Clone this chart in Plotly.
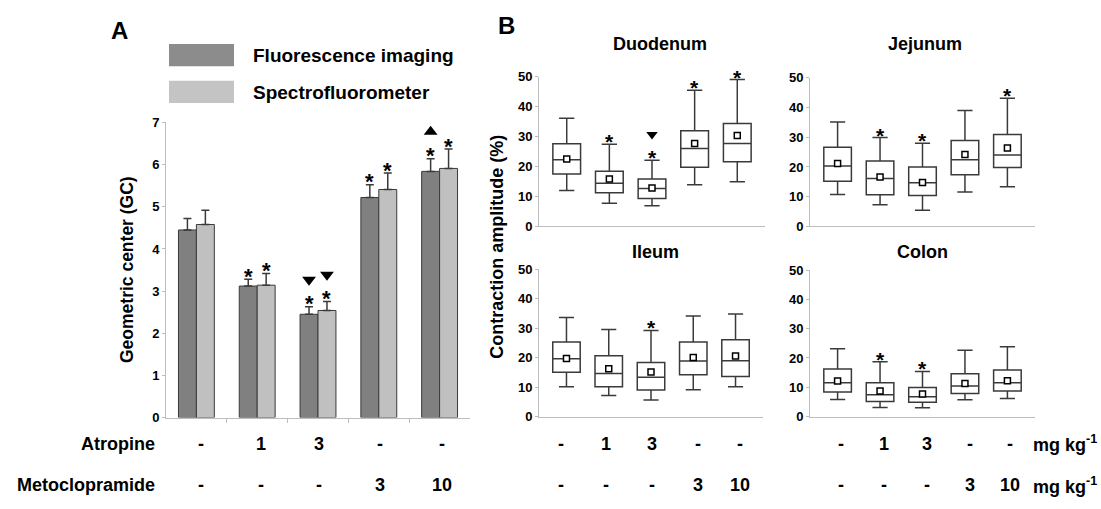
import plotly.graph_objects as go

W, H = 1101, 509

# ---------------- Panel A: geometric centre of transit ----------------
groups = [0, 1, 2, 3, 4]
gc_fluor = [4.45, 3.12, 2.45, 5.22, 5.84]
gc_fluor_err = [0.27, 0.16, 0.18, 0.30, 0.30]
gc_spec = [4.58, 3.14, 2.54, 5.41, 5.91]
gc_spec_err = [0.34, 0.28, 0.21, 0.39, 0.46]
gc_fluor_star = [False, True, True, True, True]
gc_spec_star = [False, True, True, True, True]
gc_fluor_tri = [None, None, "down", None, "up"]
gc_spec_tri = [None, None, "down", None, None]

# ---------------- Panel B: contraction amplitude (%) ----------------
duo_low = [12.0, 7.7, 6.9, 13.9, 14.9]
duo_q1 = [17.5, 11.2, 9.3, 19.8, 21.6]
duo_med = [22.3, 14.4, 12.7, 26.0, 27.7]
duo_q3 = [27.6, 18.4, 15.8, 32.0, 34.4]
duo_high = [36.2, 27.5, 22.1, 45.5, 49.1]
duo_mean = [22.5, 15.8, 12.8, 27.7, 30.4]
duo_star = [False, True, True, True, True]
duo_tri = [None, None, "down", None, None]

jej_low = [10.7, 7.3, 5.4, 11.6, 13.3]
jej_q1 = [15.2, 10.6, 10.4, 17.4, 19.8]
jej_med = [20.3, 16.1, 14.7, 22.4, 24.0]
jej_q3 = [26.6, 22.0, 20.0, 28.9, 30.9]
jej_high = [35.1, 29.9, 28.0, 39.0, 43.1]
jej_mean = [21.2, 16.6, 14.8, 24.2, 26.4]
jej_star = [False, True, True, False, True]
jej_tri = [None] * 5

ile_low = [10.1, 7.1, 5.6, 9.1, 10.1]
ile_q1 = [15.0, 10.1, 9.0, 14.2, 13.6]
ile_med = [19.6, 14.6, 13.3, 18.8, 18.9]
ile_q3 = [25.3, 20.6, 18.3, 25.3, 26.0]
ile_high = [33.6, 29.5, 29.2, 34.1, 34.8]
ile_mean = [19.7, 16.2, 15.1, 20.0, 20.5]
ile_star = [False, False, True, False, False]
ile_tri = [None] * 5

col_low = [5.8, 3.1, 3.0, 5.7, 6.2]
col_q1 = [8.4, 5.1, 4.9, 7.9, 8.7]
col_med = [11.5, 7.4, 6.8, 10.4, 11.5]
col_q3 = [16.2, 11.5, 9.9, 14.6, 15.9]
col_high = [23.1, 18.7, 15.4, 22.6, 23.8]
col_mean = [12.1, 8.7, 7.7, 11.3, 12.2]
col_star = [False, True, True, False, False]
col_tri = [None] * 5

# Dose table below the panels
atropine_doses = ["-", "1", "3", "-", "-"]
metoclopramide_doses = ["-", "-", "-", "3", "10"]

# Column positions (px) of the dose table under each panel
table_cols_a = [201, 261, 319, 380, 442]
table_cols_b_left = [561, 606, 652, 698, 740]
table_cols_b_right = [841, 884, 927, 970, 1010]

FONT = "Liberation Sans, Arial, Helvetica, sans-serif"
AXIS_GREY = "#bdbdbd"
LINE_DARK = "#3a3a3a"


def px_x(p):
    return p / W


def px_y(p):
    return 1 - p / H


fig = go.Figure()
ann = []

# ---- Panel A bars ----
bar_w = 0.295
fig.add_trace(go.Bar(
    x=groups, y=gc_fluor, width=bar_w, offset=-bar_w,
    marker=dict(color="#808080", line=dict(color=LINE_DARK, width=1)),
    error_y=dict(type="data", array=gc_fluor_err, arrayminus=[0] * 5,
                 symmetric=False, color=LINE_DARK, thickness=1.5, width=4),
    xaxis="x", yaxis="y", showlegend=False, name="Fluorescence imaging"))
fig.add_trace(go.Bar(
    x=groups, y=gc_spec, width=bar_w, offset=0,
    marker=dict(color="#c0c0c0", line=dict(color=LINE_DARK, width=1)),
    error_y=dict(type="data", array=gc_spec_err, arrayminus=[0] * 5,
                 symmetric=False, color=LINE_DARK, thickness=1.5, width=4),
    xaxis="x", yaxis="y", showlegend=False, name="Spectrofluorometer"))


def add_marks(xs, tops, stars, tris, xa, ya, star_px, tri_off, tri_size, star_size):
    """Significance asterisks (annotations) and triangles (markers) above each top."""
    tdx, tdy, tux, tuy = [], [], [], []
    for x, t, s, tr in zip(xs, tops, stars, tris):
        if s:
            ann.append(dict(x=x, y=t, xref=xa, yref=ya, text="*", yshift=star_px,
                            showarrow=False, xanchor="center", yanchor="middle",
                            font=dict(family=FONT, size=star_size, color="black",
                                      weight="bold")))
        if tr == "down":
            tdx.append(x)
            tdy.append(t + tri_off)
        elif tr == "up":
            tux.append(x)
            tuy.append(t + tri_off)
    for tx, ty, sym in ((tdx, tdy, "triangle-down"), (tux, tuy, "triangle-up")):
        if tx:
            fig.add_trace(go.Scatter(
                x=tx, y=ty, mode="markers",
                marker=dict(symbol=sym, size=tri_size, color="black"),
                xaxis=xa, yaxis=ya, showlegend=False, hoverinfo="skip",
                cliponaxis=False))


add_marks([g - bar_w / 2 for g in groups],
          [v + e for v, e in zip(gc_fluor, gc_fluor_err)],
          gc_fluor_star, gc_fluor_tri, "x", "y", 3, 0.64, 12, 22)
add_marks([g + bar_w / 2 for g in groups],
          [v + e for v, e in zip(gc_spec, gc_spec_err)],
          gc_spec_star, gc_spec_tri, "x", "y", 3, 0.64, 12, 22)

# ---- Panel B box plots ----
segments = [
    ("Duodenum", duo_low, duo_q1, duo_med, duo_q3, duo_high, duo_mean, duo_star, duo_tri, "x2", "y2"),
    ("Jejunum", jej_low, jej_q1, jej_med, jej_q3, jej_high, jej_mean, jej_star, jej_tri, "x3", "y3"),
    ("Ileum", ile_low, ile_q1, ile_med, ile_q3, ile_high, ile_mean, ile_star, ile_tri, "x4", "y4"),
    ("Colon", col_low, col_q1, col_med, col_q3, col_high, col_mean, col_star, col_tri, "x5", "y5"),
]
for name, lo, q1, med, q3, hi, mean, star, tri, xa, ya in segments:
    fig.add_trace(go.Box(
        x=groups, lowerfence=lo, q1=q1, median=med, q3=q3, upperfence=hi,
        boxpoints=False, fillcolor="white", width=0.65, whiskerwidth=0.55,
        line=dict(color=LINE_DARK, width=1.5), xaxis=xa, yaxis=ya,
        showlegend=False, name=name, hoverinfo="skip"))
    fig.add_trace(go.Scatter(
        x=groups, y=mean, mode="markers",
        marker=dict(symbol="square", size=6, color="white",
                    line=dict(color="black", width=1.5)),
        xaxis=xa, yaxis=ya, showlegend=False, hoverinfo="skip"))
    add_marks(groups, hi, star, tri, xa, ya, 2.5, 8.6, 10, 21)

# ---- Axes ----
tickfont = dict(family=FONT, size=13, color="black", weight="bold")
common_y = dict(showgrid=False, zeroline=False, showline=True, linecolor=AXIS_GREY,
                linewidth=1, ticks="outside", ticklen=3, tickcolor=AXIS_GREY,
                tickfont=tickfont)
common_x = dict(showgrid=False, zeroline=False, showline=True, linecolor=AXIS_GREY,
                linewidth=1, showticklabels=False, ticks="")

layout_axes = dict(
    xaxis=dict(common_x, domain=[px_x(166), px_x(470)], range=[-0.5, 4.5],
               anchor="y", ticks="outside", ticklen=4, tickcolor=AXIS_GREY,
               tickvals=[0.5, 1.5, 2.5, 3.5]),
    yaxis=dict(common_y, domain=[px_y(423), px_y(119)], range=[0, 7],
               dtick=1, anchor="x"),
)
b_boxes = {
    2: (539, 765, 226, 72),
    3: (810, 1035, 226, 73),
    4: (539, 763, 422, 270),
    5: (810, 1035, 422, 271),
}
for k, (x0, x1, y0, y1) in b_boxes.items():
    layout_axes[f"xaxis{k}"] = dict(common_x, domain=[px_x(x0), px_x(x1)],
                                    range=[-0.65, 4.65], anchor=f"y{k}")
    layout_axes[f"yaxis{k}"] = dict(common_y, domain=[px_y(y0), px_y(y1)],
                                    range=[0, 50], dtick=10, anchor=f"x{k}")

fig.update_layout(
    width=W, height=H, margin=dict(l=0, r=0, t=0, b=0),
    paper_bgcolor="white", plot_bgcolor="white",
    font=dict(family=FONT, size=13, color="black", weight="bold"),
    barmode="overlay", showlegend=False,
    **layout_axes,
)


# ---- Text: panel letters, titles, legend, dose table ----
def text(x, y, s, size, xanchor="center", yanchor="middle", angle=0):
    ann.append(dict(x=x, y=y, xref="paper", yref="paper", text=s, showarrow=False,
                    xanchor=xanchor, yanchor=yanchor, textangle=angle,
                    font=dict(family=FONT, size=size, color="black", weight="bold")))


text(px_x(119), px_y(24), "A", 24)
text(px_x(506), px_y(19), "B", 24)
text(px_x(127), px_y(271), "Geometric center (GC)", 17.5, angle=-90)
text(px_x(497), px_y(247), "Contraction amplitude (%)", 18, angle=-90)

text(px_x(660), px_y(38), "Duodenum", 18)
text(px_x(925), px_y(38), "Jejunum", 18)
text(px_x(655), px_y(252), "Ileum", 18)
text(px_x(922), px_y(252), "Colon", 18)

# Legend swatches
shapes = [
    dict(type="rect", xref="paper", yref="paper", x0=px_x(169), x1=px_x(234),
         y0=px_y(61), y1=px_y(38), fillcolor="#8c8c8c", line=dict(width=0)),
    dict(type="rect", xref="paper", yref="paper", x0=px_x(169), x1=px_x(234),
         y0=px_y(99), y1=px_y(76), fillcolor="#c4c4c4", line=dict(width=0)),
]
text(px_x(251), px_y(50), "Fluorescence imaging", 19, xanchor="left")
text(px_x(251), px_y(88), "Spectrofluorometer", 19, xanchor="left")

# Dose rows
row1_y, row2_y = 450, 493
text(px_x(157), px_y(row1_y), "Atropine", 18, xanchor="right")
text(px_x(157), px_y(row2_y), "Metoclopramide", 18, xanchor="right")
for cols in (table_cols_a, table_cols_b_left, table_cols_b_right):
    for cx, a, m in zip(cols, atropine_doses, metoclopramide_doses):
        text(px_x(cx), px_y(row1_y), a, 18)
        text(px_x(cx), px_y(row2_y), m, 18)
text(px_x(1031), px_y(row1_y), "mg kg<sup>-1</sup>", 18, xanchor="left")
text(px_x(1031), px_y(row2_y), "mg kg<sup>-1</sup>", 18, xanchor="left")

fig.update_layout(annotations=ann, shapes=shapes)

fig.write_html("out.html")
